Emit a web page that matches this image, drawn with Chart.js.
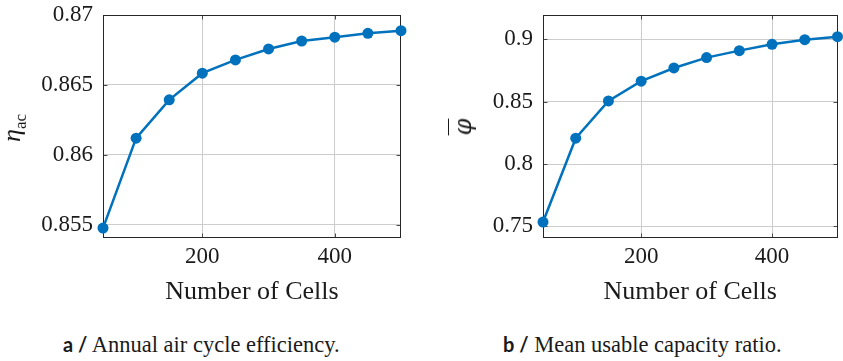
<!DOCTYPE html>
<html>
<head>
<meta charset="utf-8">
<script src="https://cdn.jsdelivr.net/npm/chart.js@4/dist/chart.umd.min.js"></script>
<style>
  html, body { margin: 0; padding: 0; background: #fff; }
  body { width: 843px; height: 361px; position: relative; overflow: hidden;
         font-family: 'Liberation Serif', 'Times New Roman', serif; color: #1a1a1a; }
  canvas { position: absolute; top: 0; }
  .ytitle { position: absolute; transform: translate(-50%, -50%) rotate(-90deg);
            font-size: 26px; white-space: nowrap; line-height: 1; }
  .cap { position: absolute; top: 332px; font-size: 22.5px; white-space: nowrap; }
  .cap b { font-family: 'Lato', sans-serif; font-weight: 700; font-size: 20px; }
</style>
</head>
<body>
<canvas id="chart-eta" width="421" height="308" style="left:0;width:421px;height:308px"></canvas>
<canvas id="chart-phi" width="403" height="308" style="left:440px;width:403px;height:308px"></canvas>
<div class="ytitle" style="left:14px;top:128px"><i>η</i><sub style="font-size:17px">ac</sub></div>
<div class="ytitle" style="left:463px;top:127px;font-family:'DejaVu Serif',serif;font-size:24px"><i style="text-decoration:overline;text-decoration-thickness:1px">φ</i></div>
<div class="cap" style="left:63px"><b>a /</b> Annual air cycle efficiency.</div>
<div class="cap" style="left:503px"><b>b /</b> Mean usable capacity ratio.</div>
<script>
// ── Data ─────────────────────────────────────────────────────────────────────
const cells    = [50, 100, 150, 200, 250, 300, 350, 400, 450, 500];
const etaAc    = [0.85476, 0.86119, 0.86393, 0.86584, 0.86679, 0.86757, 0.86814, 0.86841, 0.86869, 0.86888];
const phiMean  = [0.7535, 0.8207, 0.8506, 0.8664, 0.8770, 0.8853, 0.8909, 0.8960, 0.8997, 0.9021];

const xTicks   = [200, 400];
const etaTicks = [0.855, 0.86, 0.865, 0.87];
const phiTicks = [0.75, 0.8, 0.85, 0.9];

const BLUE = '#0072bd';
const SERIF = "'Liberation Serif', 'Times New Roman', serif";

// frame + little inward tick marks, like pgfplots
const frameTicks = {
  id: 'frameTicks',
  beforeDatasetsDraw(chart) {
    const {ctx, chartArea: a, scales: {x, y}} = chart;
    const L = Math.round(a.left) + 0.5, R = Math.round(a.right) - 0.5;
    const T = Math.round(a.top) + 0.5, B = Math.round(a.bottom) - 0.5;
    ctx.save();
    ctx.strokeStyle = '#4a4a4a';
    ctx.lineWidth = 1;
    ctx.beginPath();
    x.ticks.forEach(t => {
      const p = Math.round(x.getPixelForValue(t.value)) + 0.5;
      ctx.moveTo(p, B); ctx.lineTo(p, B - 4);
      ctx.moveTo(p, T); ctx.lineTo(p, T + 4);
    });
    y.ticks.forEach(t => {
      const p = Math.round(y.getPixelForValue(t.value)) + 0.5;
      ctx.moveTo(L, p); ctx.lineTo(L + 4, p);
      ctx.moveTo(R, p); ctx.lineTo(R - 4, p);
    });
    ctx.stroke();
    ctx.strokeStyle = '#262626';
    ctx.strokeRect(L, T, R - L, B - T);
    ctx.restore();
  }
};

function makeChart(id, values, yTicks, yMin, yMax, padRight) {
  const ctx = document.getElementById(id).getContext('2d');
  return new Chart(ctx, {
    type: 'scatter',
    data: {
      datasets: [{
        data: cells.map((c, i) => ({x: c, y: values[i]})),
        showLine: true,
        borderColor: BLUE,
        backgroundColor: BLUE,
        borderWidth: 2.5,
        pointRadius: 5.5,
        pointBorderWidth: 0,
        pointBackgroundColor: BLUE,
        clip: false,
      }]
    },
    options: {
      responsive: false,
      animation: false,
      devicePixelRatio: 1,
      layout: { padding: { top: 15, right: padRight, left: 0, bottom: 0 } },
      plugins: { legend: { display: false }, tooltip: { enabled: false } },
      scales: {
        x: {
          type: 'linear', min: 50, max: 500,
          afterBuildTicks: s => { s.ticks = xTicks.map(v => ({value: v})); },
          afterFit: s => { s.height = 70; s.paddingLeft = 0; s.paddingRight = 0; },
          grid: { color: '#cccccc', lineWidth: 1, drawTicks: false },
          border: { display: false },
          ticks: { padding: 5, color: '#1a1a1a', font: { family: SERIF, size: 23 },
                   callback: v => String(v) },
          title: { display: true, text: 'Number of Cells', color: '#1a1a1a',
                   font: { family: SERIF, size: 26 }, padding: 0 },
        },
        y: {
          type: 'linear', min: yMin, max: yMax,
          afterBuildTicks: s => { s.ticks = yTicks.map(v => ({value: v})); },
          afterFit: s => { s.width = 103; s.paddingTop = 0; s.paddingBottom = 0; },
          grid: { color: '#cccccc', lineWidth: 1, drawTicks: false },
          border: { display: false },
          ticks: { padding: 10, color: '#1a1a1a', font: { family: SERIF, size: 23 },
                   callback: v => String(v) },
        },
      },
    },
    plugins: [frameTicks],
  });
}

makeChart('chart-eta', etaAc,   etaTicks, 0.85405, 0.87,    20);
makeChart('chart-phi', phiMean, phiTicks, 0.74071, 0.91946, 2);
</script>
</body>
</html>
